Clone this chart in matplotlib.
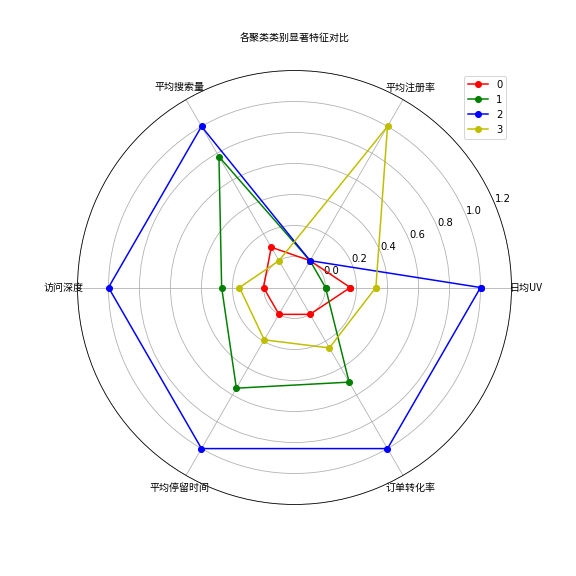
import numpy as np
import matplotlib
matplotlib.use('Agg')
import matplotlib.pyplot as plt

plt.rcParams['font.family'] = ['Noto Sans CJK SC', 'DejaVu Sans']
plt.rcParams['axes.unicode_minus'] = False

# feature names and cluster profiles (normalized)
labels = ['日均UV', '平均注册率', '平均搜索量', '访问深度', '平均停留时间', '订单转化率']
cluster_0 = [0.16, 0.0, 0.10, 0.0, 0.0, 0.0]
cluster_1 = [0.0, 0.0, 0.775, 0.27, 0.55, 0.505]
cluster_2 = [1.0, 0.0, 1.0, 1.0, 1.0, 1.0]
cluster_3 = [0.325, 1.0, 0.0, 0.155, 0.19, 0.25]
clusters = [cluster_0, cluster_1, cluster_2, cluster_3]
colors = ['r', 'g', 'b', 'y']

angles = np.linspace(0, 2 * np.pi, len(labels), endpoint=False)
angles_closed = np.concatenate([angles, angles[:1]])

fig = plt.figure(figsize=(8, 8), dpi=72)
ax = fig.add_axes([77.5 / 576, 71.5 / 576, 434 / 576, 434 / 576], polar=True)

for i, (vals, c) in enumerate(zip(clusters, colors)):
    v = np.concatenate([vals, vals[:1]])
    ax.plot(angles_closed, v, 'o-', color=c, linewidth=1.5, markersize=6, label=str(i))

ax.set_thetagrids(angles * 180 / np.pi, labels, fontsize=10)
ax.set_ylim(-0.2, 1.2)
ax.set_rticks(np.arange(0, 1.21, 0.2))
for t in ax.get_yticklabels():
    t.set_fontfamily('DejaVu Sans')
ax.grid(True)
ax.set_title('各聚类类别显著特征对比', fontsize=10, pad=29)
leg = ax.legend(loc='upper right')
for t in leg.get_texts():
    t.set_fontfamily('DejaVu Sans')

plt.savefig('out.png', dpi=72)
